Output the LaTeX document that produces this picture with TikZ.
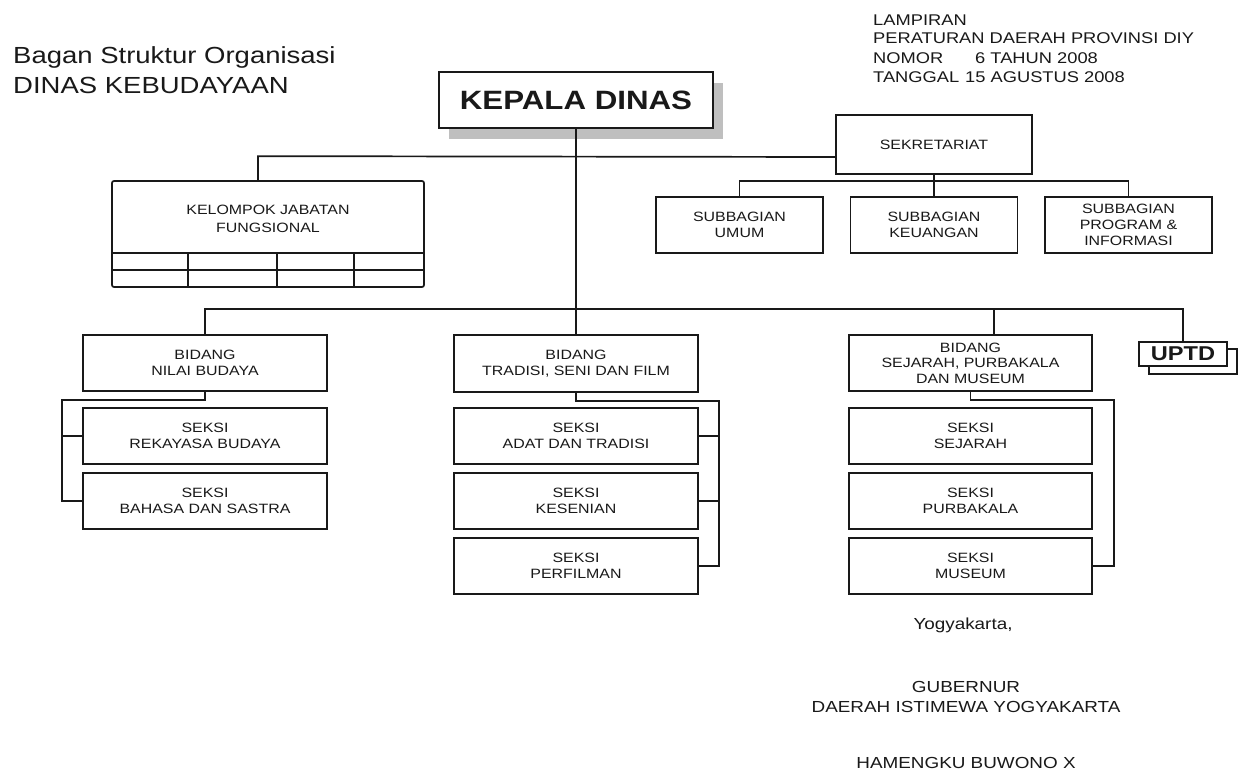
\documentclass[tikz,border=0pt]{standalone}
\usepackage{fontspec}
\setmainfont{Liberation Sans}[FakeStretch=1.18]
\usetikzlibrary{shadows}
\tikzset{
  ln/.style={line width=1.7pt, draw=black!90},
  orgbox/.style={draw=black!90, line width=1.7pt, fill=white, inner sep=0pt, align=center,
    text=black!90, font=\fontsize{13.5}{16.5}\selectfont},
  bidbox/.style={orgbox, minimum width=244pt, minimum height=56pt},
  subbox/.style={orgbox, minimum width=167pt, minimum height=56pt},
  plain/.style={inner sep=0pt, text=black!90},
  hdr/.style={plain, anchor=base west, font=\fontsize{15.5}{18}\selectfont},
  sig/.style={plain, anchor=base, font=\fontsize{16}{19}\selectfont},
  ttl/.style={plain, anchor=base west, font=\fontsize{23.3}{28}\selectfont}
}
\begin{document}
\begin{tikzpicture}[x=1pt,y=-1pt]
\useasboundingbox (0,0) rectangle (1242,771);
\fill[white] (0,0) rectangle (1242,771);

% title and header
\node[ttl] (t1) at (13,63) {Bagan Struktur Organisasi};
\node[ttl] (t2) at (13,93) {DINAS KEBUDAYAAN};
\node[hdr] (h1) at (873,25) {LAMPIRAN};
\node[hdr] (h2) at (873,43.5) {PERATURAN DAERAH PROVINSI DIY};
\node[hdr] (h3) at (873,63) {NOMOR};
\node[hdr] (h3b) at (975,63) {6 TAHUN 2008};
\node[hdr] (h4) at (873,82.5) {TANGGAL};
\node[hdr] (h4b) at (965,82.5) {15 AGUSTUS 2008};

% head
\node[orgbox, minimum width=274pt, minimum height=56pt,
  font=\bfseries\fontsize{26.5}{30}\selectfont,
  drop shadow={shadow xshift=10pt, shadow yshift=-11pt, fill=black!25, opacity=1}]
  (kepala) at (576,100) {KEPALA DINAS};

% sekretariat
\node[orgbox, minimum width=196pt, minimum height=59pt] (sek) at (934,144.5) {SEKRETARIAT};
\node[subbox] (umum) at (739.5,225) {SUBBAGIAN\\UMUM};
\node[subbox] (keu) at (934,225) {SUBBAGIAN\\KEUANGAN};
\node[subbox, font=\fontsize{13.5}{16}\selectfont] (prog) at (1128.5,225) {SUBBAGIAN\\PROGRAM \&\\INFORMASI};

% kelompok jabatan fungsional
\node[orgbox, rounded corners=2pt, minimum width=312pt, minimum height=106pt] (kel) at (268,234) {};
\node[plain, align=center, font=\fontsize{13.5}{18}\selectfont] (keltxt) at (268,219) {KELOMPOK JABATAN\\FUNGSIONAL};
\draw[ln] (112,253) -- (424,253);
\draw[ln] (112,270) -- (424,270);
\draw[ln] (188,253) -- (188,287);
\draw[ln] (277,253) -- (277,287);
\draw[ln] (354,253) -- (354,287);

% bidang
\node[bidbox] (b1) at (205,363) {BIDANG\\NILAI BUDAYA};
\node[bidbox] (s11) at (205,436) {SEKSI\\REKAYASA BUDAYA};
\node[bidbox] (s12) at (205,501) {SEKSI\\BAHASA DAN SASTRA};

\node[bidbox, minimum height=57pt] (b2) at (576,363.5) {BIDANG\\TRADISI, SENI DAN FILM};
\node[bidbox] (s21) at (576,436) {SEKSI\\ADAT DAN TRADISI};
\node[bidbox] (s22) at (576,501) {SEKSI\\KESENIAN};
\node[bidbox] (s23) at (576,566) {SEKSI\\PERFILMAN};

\node[bidbox, minimum width=243pt, font=\fontsize{13.5}{15.5}\selectfont] (b3) at (970.5,363) {BIDANG\\SEJARAH, PURBAKALA\\DAN MUSEUM};
\node[bidbox, minimum width=243pt] (s31) at (970.5,436) {SEKSI\\SEJARAH};
\node[bidbox, minimum width=243pt] (s32) at (970.5,501) {SEKSI\\PURBAKALA};
\node[bidbox, minimum width=243pt] (s33) at (970.5,566) {SEKSI\\MUSEUM};

% UPTD
\draw[ln, fill=white] (1149,349) rectangle (1237,374);
\node[orgbox, minimum width=88pt, minimum height=24pt,
  font=\bfseries\fontsize{20}{22}\selectfont] (uptd) at (1183,354) {UPTD};

% connectors
\draw[ln] (kepala.south) -- (b2.north);
\draw[ln] ([xshift=-10pt]kel.north) -- ++(0,-24) -- ([yshift=-12.5pt]sek.west);
\draw[ln] (sek.south) -- (keu.north);
\draw[ln] (umum.north) -- ++(0,-15) -| (prog.north);
\draw[ln] (b1.north) -- ++(0,-25) -| (uptd.north);
\draw[ln] ([xshift=23.5pt]b3.north) -- ++(0,-25);

\draw[ln] (b1.south) -- ++(0,8) -| ([xshift=-20pt]s12.west) -- (s12.west);
\draw[ln] (s11.west) -- ++(-20,0);

\draw[ln] (b2.south) -- ++(0,8) -| ([xshift=20pt]s23.east) -- (s23.east);
\draw[ln] (s21.east) -- ++(20,0);
\draw[ln] (s22.east) -- ++(20,0);

\draw[ln] (b3.south) -- ++(0,8) -| ([xshift=21pt]s33.east) -- (s33.east);

% signature
\node[sig] (yk) at (963,629) {Yogyakarta,};
\node[sig] (gub) at (966,692) {GUBERNUR};
\node[sig] (diy) at (966,712) {DAERAH ISTIMEWA YOGYAKARTA};
\node[sig] (hb) at (966,768) {HAMENGKU BUWONO X};
\end{tikzpicture}
\end{document}
